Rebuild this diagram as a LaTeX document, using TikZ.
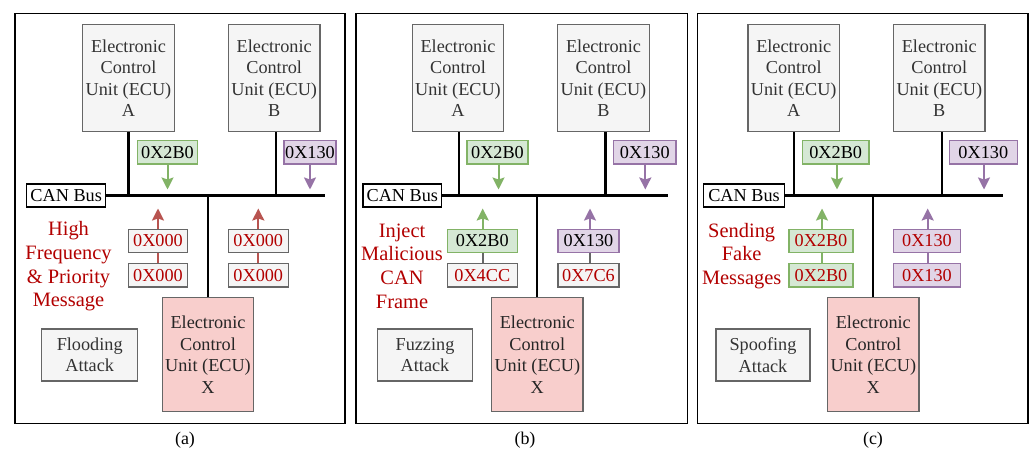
\documentclass[tikz,border=0pt]{standalone}
\usepackage{fontspec}
\setmainfont{Liberation Serif}
\usetikzlibrary{arrows.meta}

\definecolor{gfill}{HTML}{D5E8D4}
\definecolor{gline}{HTML}{82B366}
\definecolor{pfill}{HTML}{E1D5E7}
\definecolor{pline}{HTML}{9673A6}
\definecolor{rfill}{HTML}{F8CECC}
\definecolor{rline}{HTML}{B85450}
\definecolor{boxfill}{HTML}{F5F5F5}
\definecolor{boxline}{HTML}{666666}
\definecolor{darktxt}{HTML}{333333}
\definecolor{alerttxt}{HTML}{B20000}

\tikzset{
  panel/.style={draw=black, line width=1.5bp},
  ecu/.style={draw=boxline, fill=boxfill, text=darktxt, line width=1.2bp,
    minimum width=91.5bp, minimum height=107bp, inner sep=0pt, align=center,
    font=\fontsize{18.3}{21.5}\selectfont},
  ecux/.style={ecu, fill=rfill, text=black!85, minimum height=114bp},
  canbox/.style={draw=black, fill=white, line width=1.3bp, minimum height=23bp,
    inner sep=0pt, font=\fontsize{18.3}{21}\selectfont},
  msg/.style={line width=1.2bp, minimum height=23.4bp, inner sep=0pt,
    font=\fontsize{18.3}{21}\selectfont},
  gmsg/.style={msg, draw=gline, fill=gfill},
  pmsg/.style={msg, draw=pline, fill=pfill},
  nmsg/.style={msg, draw=boxline, fill=boxfill},
  attack/.style={draw=boxline, fill=boxfill, text=darktxt, line width=1.2bp,
    minimum height=52bp, inner sep=0pt, align=center,
    font=\fontsize{18.3}{21.5}\selectfont},
  note/.style={text=alerttxt, align=center, inner sep=0pt,
    font=\fontsize{20.5}{23.7}\selectfont},
  wire/.style={draw=black, line width=2.3bp},
  flow/.style={line width=2bp, -{Stealth[length=12bp,width=12bp,inset=2bp]}},
  caption/.style={font=\fontsize{18}{20}\selectfont}
}

\begin{document}
\begin{tikzpicture}[x=1bp, y=-1bp]
\useasboundingbox (0,0) rectangle (1029,450);

% ---------------- (a) Flooding attack ----------------
\draw[panel] (15,13.3) rectangle (345,423.3);
\node[ecu] (aA) at (128.5,78.2) {Electronic\\Control\\Unit (ECU)\\A};
\node[ecu] (aB) at (274.2,78.2) {Electronic\\Control\\Unit (ECU)\\B};
\node[canbox, minimum width=79bp] (acan) at (66.2,195.5) {CAN Bus};
\coordinate (abusend) at (325,195.5);
\draw[wire] (acan.east) -- (abusend);
\draw[wire] (aA.south) -- (aA.south |- abusend);
\draw[wire] ([xshift=2bp]aB.south) -- ([xshift=2bp]aB.south |- abusend);
\node[ecux] (aX) at (208,354.7) {Electronic\\Control\\Unit (ECU)\\X};
\draw[wire] (aX.north) -- (aX.north |- abusend);
\node[gmsg, minimum width=60.3bp] (ag) at (167.5,152.3) {0X2B0};
\node[pmsg, minimum width=52bp] (ap) at (310,152.3) {0X130};
\coordinate (agt) at (167.5,189.5);
\coordinate (apt) at (310,189.5);
\draw[flow, gline] (ag.south) -- (agt);
\draw[flow, pline] (ap.south) -- (apt);
\node[nmsg, text=alerttxt, minimum width=59.4bp] (al1) at (158,241) {0X000};
\node[nmsg, text=alerttxt, minimum width=59.4bp] (al2) at (158,275.3) {0X000};
\node[nmsg, text=alerttxt, minimum width=60bp] (ar1) at (258.3,241) {0X000};
\node[nmsg, text=alerttxt, minimum width=60bp] (ar2) at (258.3,275.3) {0X000};
\coordinate (alt) at (158,208.5);
\coordinate (art) at (258.3,208.5);
\draw[rline, line width=2bp] (al2.north) -- (al1.south);
\draw[rline, line width=2bp] (ar2.north) -- (ar1.south);
\draw[flow, rline] (al1.north) -- (alt);
\draw[flow, rline] (ar1.north) -- (art);
\node[note] (anote) at (68.5,266.5) {High\\Frequency\\\&~Priority\\Message};
\node[attack, minimum width=96bp] (aatk) at (89.7,355) {Flooding\\Attack};
\node[caption] (acap) at (185,440) {(a)};

% ---------------- (b) Fuzzing attack ----------------
\draw[panel] (356,13.3) rectangle (687.3,423.3);
\node[ecu] (bA) at (458,78.2) {Electronic\\Control\\Unit (ECU)\\A};
\node[ecu] (bB) at (603.5,78.2) {Electronic\\Control\\Unit (ECU)\\B};
\node[canbox, minimum width=78.7bp] (bcan) at (402.3,195.5) {CAN Bus};
\coordinate (bbusend) at (668.3,195.5);
\draw[wire] (bcan.east) -- (bbusend);
\draw[wire] ([xshift=0.7bp]bA.south) -- ([xshift=0.7bp]bA.south |- bbusend);
\draw[wire] ([xshift=2bp]bB.south) -- ([xshift=2bp]bB.south |- bbusend);
\node[ecux] (bX) at (537.3,354.7) {Electronic\\Control\\Unit (ECU)\\X};
\draw[wire] (bX.north) -- (bX.north |- bbusend);
\node[gmsg, minimum width=61bp] (bg) at (497.5,152.3) {0X2B0};
\node[pmsg, minimum width=62.4bp] (bp) at (644.8,152.3) {0X130};
\coordinate (bgt) at (498.5,189.5);
\coordinate (bpt) at (645.3,189.5);
\draw[flow, gline] (bg.south -| bgt) -- (bgt);
\draw[flow, pline] (bp.south -| bpt) -- (bpt);
\node[gmsg, minimum width=70bp] (bl1) at (482.3,241) {0X2B0};
\node[nmsg, text=alerttxt, minimum width=70bp] (bl2) at (482.3,275.3) {0X4CC};
\node[pmsg, minimum width=61bp] (br1) at (588.5,241) {0X130};
\node[nmsg, text=alerttxt, minimum width=61bp] (br2) at (588.5,275.3) {0X7C6};
\coordinate (blt) at (482.7,208.5);
\coordinate (brt) at (590,208.5);
\draw[boxline, line width=2bp] (bl2.north -| blt) -- (bl1.south -| blt);
\draw[boxline, line width=2bp] (br2.north -| brt) -- (br1.south -| brt);
\draw[flow, gline] (bl1.north -| blt) -- (blt);
\draw[flow, pline] (br1.north -| brt) -- (brt);
\node[note] (bnote) at (402,266) {Inject\\Malicious\\CAN\\Frame};
\node[attack, minimum width=94.6bp] (batk) at (425,355) {Fuzzing\\Attack};
\node[caption] (bcap) at (525,440) {(b)};

% ---------------- (c) Spoofing attack ----------------
\draw[panel] (697.7,13.3) rectangle (1028.2,423.3);
\node[ecu] (cA) at (793.7,78.2) {Electronic\\Control\\Unit (ECU)\\A};
\node[ecu] (cB) at (939.3,78.2) {Electronic\\Control\\Unit (ECU)\\B};
\node[canbox, minimum width=81.4bp] (ccan) at (744,195.5) {CAN Bus};
\coordinate (cbusend) at (1003.3,195.5);
\draw[wire] (ccan.east) -- (cbusend);
\draw[wire] ([xshift=0.6bp]cA.south) -- ([xshift=0.6bp]cA.south |- cbusend);
\draw[wire] ([xshift=2.4bp]cB.south) -- ([xshift=2.4bp]cB.south |- cbusend);
\node[ecux] (cX) at (873.3,354.7) {Electronic\\Control\\Unit (ECU)\\X};
\draw[wire] (cX.north) -- (cX.north |- cbusend);
\node[gmsg, minimum width=66.7bp] (cg) at (835.7,152.3) {0X2B0};
\node[pmsg, minimum width=68bp] (cp) at (983.3,152.3) {0X130};
\coordinate (cgt) at (837,189.5);
\coordinate (cpt) at (984,189.5);
\draw[flow, gline] (cg.south -| cgt) -- (cgt);
\draw[flow, pline] (cp.south -| cpt) -- (cpt);
\node[gmsg, text=alerttxt, minimum width=64bp] (cl1) at (821,241) {0X2B0};
\node[gmsg, text=alerttxt, minimum width=64bp] (cl2) at (821,275.3) {0X2B0};
\node[pmsg, text=alerttxt, minimum width=66.7bp] (cr1) at (927,241) {0X130};
\node[pmsg, text=alerttxt, minimum width=66.7bp] (cr2) at (927,275.3) {0X130};
\coordinate (clt) at (822,208.5);
\coordinate (crt) at (927.7,208.5);
\draw[gline, line width=2bp] (cl2.north -| clt) -- (cl1.south -| clt);
\draw[pline, line width=2bp] (cr2.north -| crt) -- (cr1.south -| crt);
\draw[flow, gline] (cl1.north -| clt) -- (clt);
\draw[flow, pline] (cr1.north -| crt) -- (crt);
\node[note] (cnote) at (741.7,256) {Sending\\Fake\\Messages};
\node[attack, minimum width=94bp] (catk) at (763,355) {Spoofing\\Attack};
\node[caption] (ccap) at (873,440) {(c)};
\end{tikzpicture}
\end{document}
